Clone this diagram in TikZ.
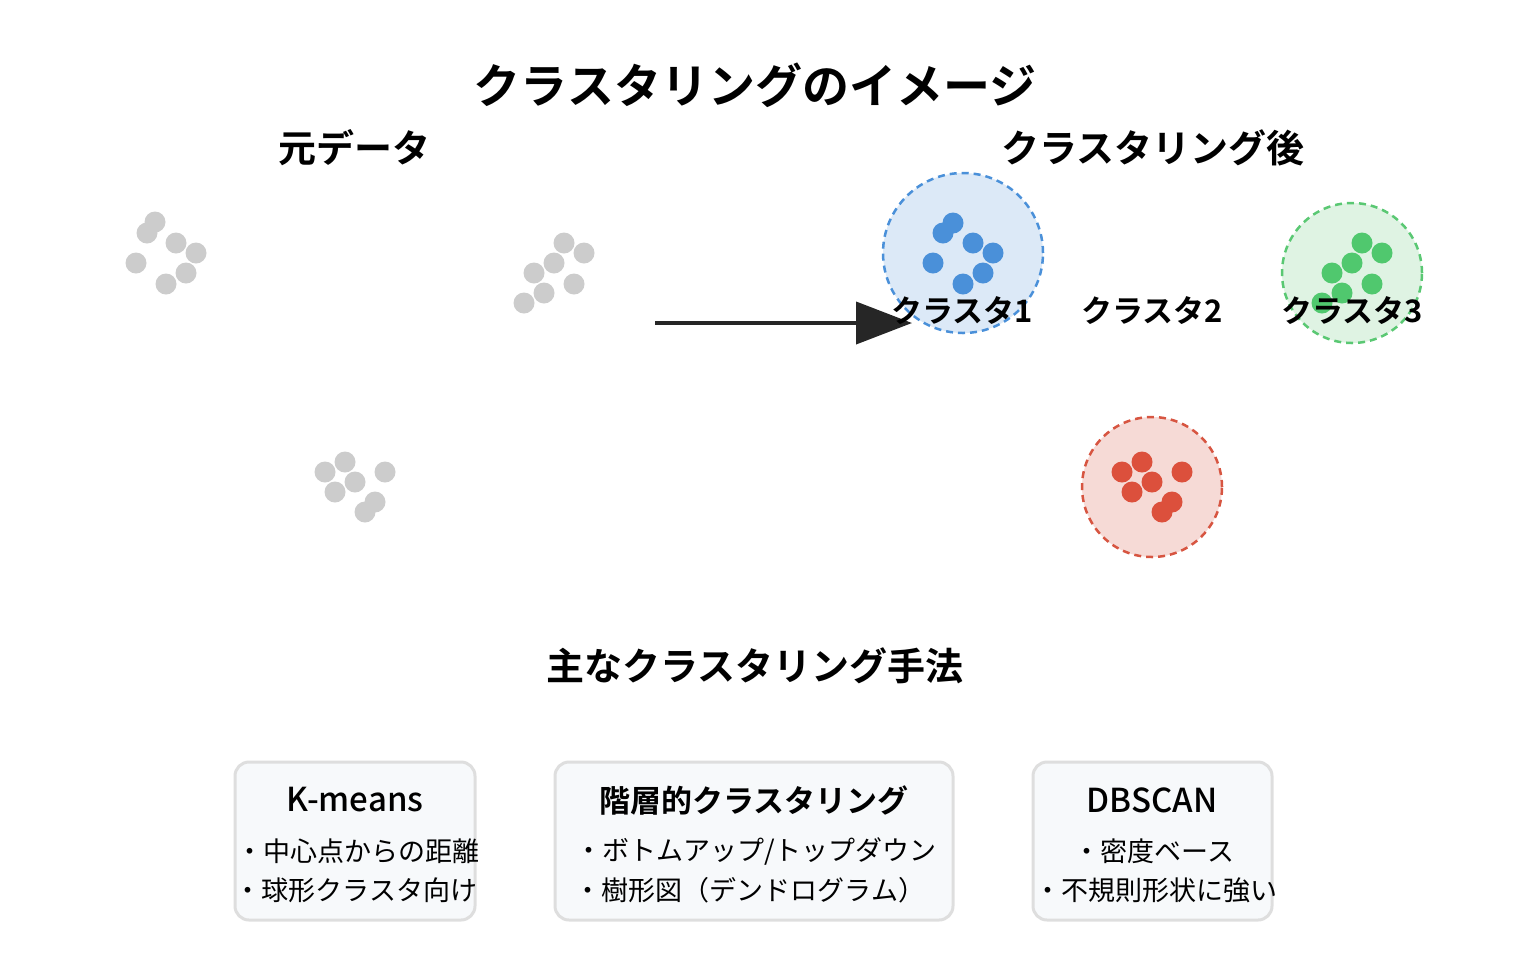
\documentclass[tikz,border=0pt]{standalone}
\usepackage{fontspec}
\setmainfont{Noto Sans CJK JP}
\newfontfamily\jpb{Noto Sans CJK JP Bold}
\newfontfamily\jpm{Noto Sans CJK JP Medium}
\usetikzlibrary{arrows.meta}
\begin{document}
\begin{tikzpicture}[x=1pt,y=-1pt,
 dot/.style={circle,inner sep=0,minimum size=21pt},
 gdot/.style={dot,fill=black!20},
 hdr/.style={font=\jpb\fontsize{38}{40}\selectfont},
 lab/.style={font=\jpb\fontsize{31}{32}\selectfont},
 box/.style={draw=black!13,line width=3pt,fill={rgb,255:red,247;green,249;blue,251},rounded corners=14pt},
 bt/.style={font=\jpm\fontsize{33}{34}\selectfont},
 bl/.style={font=\fontsize{27}{30}\selectfont}]
\useasboundingbox (0,0) rectangle (1538,962);
\node[font=\jpb\fontsize{47}{50}\selectfont] (title) at (755,85) {クラスタリングのイメージ};
\node[hdr] (h1) at (354,148) {元データ};
\node[hdr] (h2) at (1153,148) {クラスタリング後};
\foreach \p in {(155,222),(147,233),(176,243),(196,253),(136,263),(186,273),(166,284),
 (564,243),(584,253),(554,263),(534,273),(574,284),(544,293),(524,303),
 (345,462),(325,472),(385,472),(355,482),(335,492),(375,502),(365,512)}
 \node[gdot] at \p {};
\node[circle,draw={rgb,255:red,74;green,144;blue,217},line width=2.5pt,fill={rgb,255:red,220;green,233;blue,247},minimum size=160pt,dash pattern=on 7pt off 5pt] (c1) at (963,253) {};
\node[circle,draw={rgb,255:red,90;green,200;blue,115},line width=2.5pt,fill={rgb,255:red,223;green,243;blue,227},minimum size=140pt,dash pattern=on 7pt off 5pt] (c3) at (1352,273) {};
\node[circle,draw={rgb,255:red,215;green,85;blue,65},line width=2.5pt,fill={rgb,255:red,246;green,218;blue,214},minimum size=140pt,dash pattern=on 7pt off 5pt] (c2) at (1152,487) {};
\foreach \p in {(953,223),(943,233),(973,243),(993,253),(933,263),(983,273),(963,284)}
 \node[dot,fill={rgb,255:red,74;green,144;blue,217}] at \p {};
\foreach \p in {(1362,243),(1382,253),(1352,263),(1332,273),(1372,284),(1342,293),(1322,303)}
 \node[dot,fill={rgb,255:red,80;green,200;blue,110}] at \p {};
\foreach \p in {(1142,462),(1122,472),(1182,472),(1152,482),(1132,492),(1172,502),(1162,512)}
 \node[dot,fill={rgb,255:red,220;green,80;blue,60}] at \p {};
\coordinate (a0) at (655,323);
\coordinate (a1) at (912,323);
\draw[line width=4pt,black!85,-{Triangle[length=56pt,width=42pt]}] (a0) -- (a1);
\node[lab] (l1) at (962,311) {クラスタ1};
\node[lab] (l2) at (1152,311) {クラスタ2};
\node[lab] (l3) at (1352,311) {クラスタ3};
\node[hdr] (h3) at (755,666) {主なクラスタリング手法};
\draw[box] (235,762) rectangle (475,920);
\draw[box] (555,762) rectangle (953,920);
\draw[box] (1033,762) rectangle (1272,920);
\node[bt] (t1) at (355,800) {K-means};
\node[bl] at (358,851) {・中心点からの距離};
\node[bl] at (356,890) {・球形クラスタ向け};
\node[bt,font=\jpb\fontsize{31}{34}\selectfont] (t2) at (754,800) {階層的クラスタリング};
\node[bl] at (756,851) {・ボトムアップ/トップダウン};
\node[bl] at (750,890) {・樹形図（デンドログラム）};
\node[bt] (t3) at (1152,800) {DBSCAN};
\node[bl] at (1154,851) {・密度ベース};
\node[bl] at (1156,890) {・不規則形状に強い};
\end{tikzpicture}
\end{document}
